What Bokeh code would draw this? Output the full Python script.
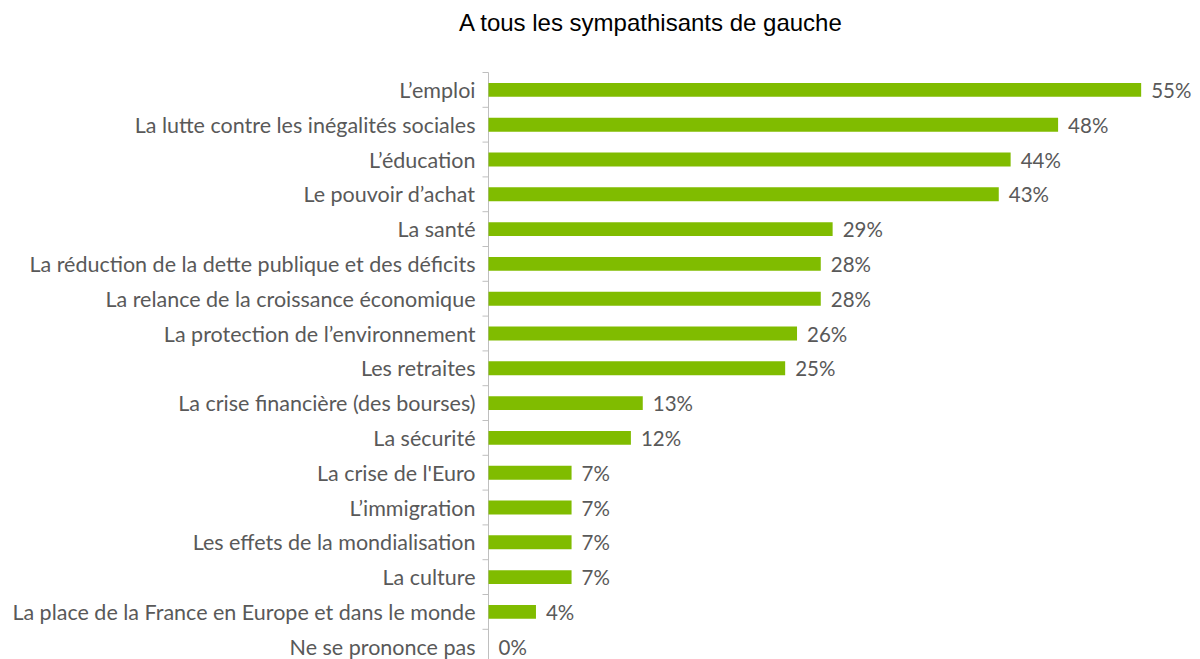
from bokeh.plotting import figure
from bokeh.models import Range1d, ColumnDataSource
from bokeh.core.properties import value
from bokeh.embed import file_html
from bokeh.resources import INLINE

categories = [
    "L’emploi",
    "La lutte contre les inégalités sociales",
    "L’éducation",
    "Le pouvoir d’achat",
    "La santé",
    "La réduction de la dette publique et des déficits",
    "La relance de la croissance économique",
    "La protection de l’environnement",
    "Les retraites",
    "La crise financière (des bourses)",
    "La sécurité",
    "La crise de l'Euro",
    "L’immigration",
    "Les effets de la mondialisation",
    "La culture",
    "La place de la France en Europe et dans le monde",
    "Ne se prononce pas",
]
values = [55, 48, 44, 43, 29, 28, 28, 26, 25, 13, 12, 7, 7, 7, 7, 4, 0]
title_text = "A tous les sympathisants de gauche"

# layout constants (pixels)
W, H = 1200, 659
AXIS_PX = 488          # x pixel of the 0 % line
TOP_PX = 72            # y pixel of the first category boundary
ROW_PX = 34.8          # height of one category row
X_MAX = 60.0           # % at the right edge of the plot

n = len(categories)
px_per_pct = (W - AXIS_PX) / X_MAX
x_start = -AXIS_PX / px_per_pct
y_top = -0.5 - TOP_PX / ROW_PX
y_bottom = y_top + H / ROW_PX

ypos = list(range(n))
src = ColumnDataSource(dict(
    y=ypos,
    v=values,
    lab=[f"{v}%" for v in values],
    cat=categories,
    zero=[0] * n,
))

p = figure(
    width=W, height=H,
    output_backend="svg", toolbar_location=None,
    x_range=Range1d(x_start, X_MAX),
    y_range=Range1d(y_bottom, y_top),
    min_border=0,
    x_axis_location=None, y_axis_location=None,
)
p.xgrid.visible = False
p.ygrid.visible = False
p.outline_line_color = None

# title
p.text(x=[(650.5 - AXIS_PX) / px_per_pct], y=[-0.5 - (TOP_PX - 22) / ROW_PX],
       text=[title_text], text_align="center", text_baseline="middle",
       text_font=value("Liberation Sans"), text_font_size="24px",
       text_color="#000000")

# category axis: line + boundary ticks
p.segment(x0=[0], y0=[-0.5], x1=[0], y1=[y_bottom],
          line_color="#BFBFBF", line_width=1)
bounds = [i - 0.5 for i in range(n + 1)]
tick_len = 6 / px_per_pct
p.segment(x0=[-tick_len] * len(bounds), y0=bounds, x1=[0] * len(bounds), y1=bounds,
          line_color="#BFBFBF", line_width=1)

# category labels
p.text(x="zero", y="y", text="cat", source=src, x_offset=-13,
       text_align="right", text_baseline="middle",
       text_font=value("Lato"), text_font_size="21.5px", text_color="#595959")

# bars
p.hbar(y="y", right="v", left=0, height=0.4, source=src,
       fill_color="#80BC00", line_color=None)

# value labels
p.text(x="v", y="y", text="lab", source=src, x_offset=10,
       text_baseline="middle", text_align="left",
       text_font=value("Lato"), text_font_size="20.5px", text_color="#595959")

open("out.html", "w").write(file_html(p, INLINE))
